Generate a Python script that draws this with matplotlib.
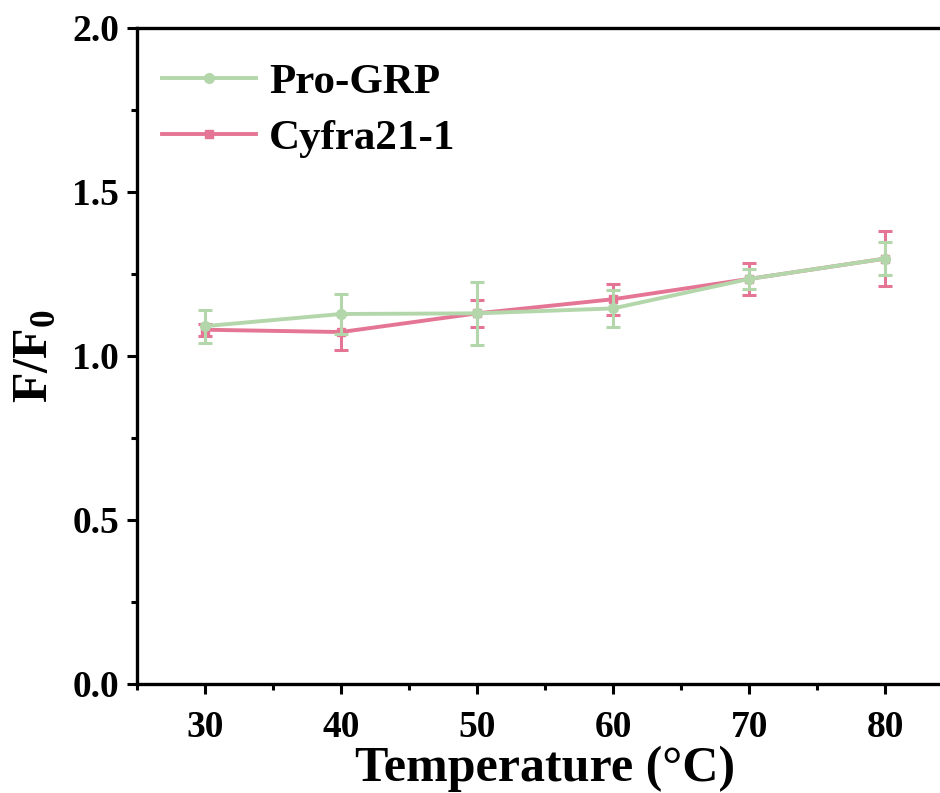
import matplotlib
matplotlib.use("Agg")
import matplotlib.pyplot as plt
from matplotlib.ticker import MultipleLocator
from matplotlib.lines import Line2D

temps = [30, 40, 50, 60, 70, 80]
progrp = [1.091, 1.128, 1.130, 1.145, 1.235, 1.297]
progrp_err = [0.050, 0.060, 0.097, 0.057, 0.031, 0.050]
cyfra = [1.080, 1.073, 1.130, 1.173, 1.235, 1.297]
cyfra_err = [0.018, 0.055, 0.042, 0.047, 0.049, 0.083]

green = "#b3d7aa"
pink = "#e57594"

plt.rcParams['font.family'] = ['Liberation Serif', 'DejaVu Serif']
plt.rcParams['font.weight'] = 'bold'
plt.rcParams['mathtext.fontset'] = 'custom'
plt.rcParams['mathtext.rm'] = 'Liberation Serif:bold'
plt.rcParams['mathtext.bf'] = 'Liberation Serif:bold'

fig = plt.figure(figsize=(9.40, 7.93), dpi=100)
ax = fig.add_axes([0.1457, 0.1375, 1.0142 - 0.1457, 0.9647 - 0.1375])

ax.errorbar(temps, cyfra, yerr=cyfra_err, color=pink, lw=2.8, marker='s', ms=6,
            capsize=5, elinewidth=2.2, capthick=2.2, zorder=3)
ax.errorbar(temps, progrp, yerr=progrp_err, color=green, lw=2.8, marker='o', ms=7,
            capsize=5, elinewidth=2.2, capthick=2.2, zorder=4)

ax.set_xlim(25, 85)
ax.set_ylim(0, 2.0)
ax.xaxis.set_minor_locator(MultipleLocator(5))
ax.yaxis.set_minor_locator(MultipleLocator(0.25))
ax.set_xticks(temps)
ax.set_yticks([0.0, 0.5, 1.0, 1.5, 2.0])
ax.set_yticklabels(['0.0', '0.5', '1.0', '1.5', '2.0'])

for s in ax.spines.values():
    s.set_linewidth(2.4)
ax.tick_params(which='major', direction='out', length=7, width=2.2, labelsize=27)
ax.tick_params(axis='x', which='major', pad=12)
ax.tick_params(axis='y', which='major', pad=6)
ax.tick_params(which='minor', direction='out', length=4, width=2.2)
for lab in ax.get_xticklabels() + ax.get_yticklabels():
    lab.set_fontweight('bold')

ax.set_xlabel('Temperature (°C)', fontsize=36, fontweight='bold', labelpad=0)
ax.set_ylabel(r'F/F$_\mathbf{0}$', fontsize=36, fontweight='bold', labelpad=10)

handles = [Line2D([], [], color=green, lw=2.8, marker='o', ms=7),
           Line2D([], [], color=pink, lw=2.8, marker='s', ms=6)]
leg = ax.legend(handles, ['Pro-GRP', 'Cyfra21-1'], loc='upper left', frameon=False,
                prop={'size': 31, 'weight': 'bold'}, handlelength=2.2, handletextpad=0.3,
                labelspacing=0.4, bbox_to_anchor=(-0.012, 1.0), borderaxespad=0.4)

fig.savefig('out.png', dpi=100)
